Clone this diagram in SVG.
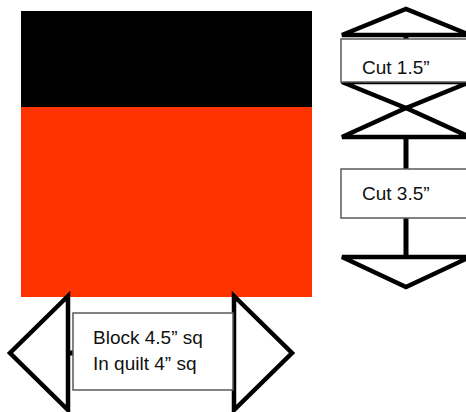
<svg xmlns="http://www.w3.org/2000/svg" width="466" height="412" viewBox="0 0 466 412">
  <style>
    .arrow { fill: none; stroke: #000; stroke-width: 4.5; stroke-linejoin: miter; }
    .shaft { stroke: #000; stroke-width: 5; }
    .box { fill: #fff; stroke: #595959; stroke-width: 1.5; }
    .lbl { font-family: "Liberation Sans", Arial, sans-serif; font-size: 19px; fill: #111; }
  </style>
  <rect width="466" height="412" fill="#fff"/>
  <g id="block">
    <rect x="21" y="11" width="291" height="96" fill="#000"/>
    <rect x="21" y="107" width="291" height="190" fill="#ff3300"/>
  </g>
  <g id="connectors">
    <!-- vertical arrow 1 -->
    <polygon class="arrow" points="342,35 406,9 470,35"/>
    <line class="shaft" x1="406" y1="35" x2="406" y2="40"/>
    <polygon class="arrow" points="342,82 470,82 406,108"/>
    <!-- vertical arrow 2 -->
    <polygon class="arrow" points="342,137 406,108 470,137"/>
    <line class="shaft" x1="406" y1="137" x2="406" y2="169"/>
    <line class="shaft" x1="406" y1="218" x2="406" y2="258"/>
    <polygon class="arrow" points="342,257 470,257 406,287"/>
    <!-- horizontal arrow -->
    <polygon class="arrow" points="68,296 10,353 68,410"/>
    <polygon class="arrow" points="234,296 292,353 234,410"/>
    <line class="shaft" x1="68" y1="353" x2="74" y2="353"/>
    <line class="shaft" x1="228" y1="353" x2="234" y2="353"/>
  </g>
  <g id="cut15">
    <rect class="box" x="341" y="39" width="140" height="43"/>
    <text class="lbl" x="362" y="74">Cut 1.5”</text>
  </g>
  <g id="cut35">
    <rect class="box" x="341" y="169" width="140" height="49"/>
    <text class="lbl" x="362" y="200">Cut 3.5”</text>
  </g>
  <g id="size">
    <rect class="box" x="73" y="313" width="160" height="77"/>
    <text class="lbl" x="93" y="344">Block 4.5” sq</text>
    <text class="lbl" x="93" y="370">In quilt 4” sq</text>
  </g>
</svg>
